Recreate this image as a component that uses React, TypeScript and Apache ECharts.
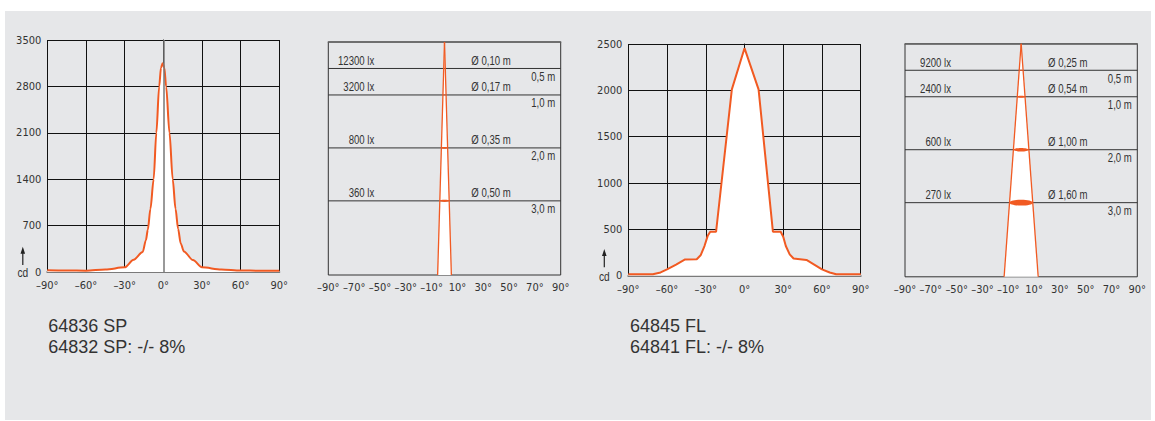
import React, { useEffect, useRef } from "react";
import * as echarts from "echarts";

// ---- Data ----
const spAngles = [-90, -75, -60, -45, -30, -23, -16, -13.5, -12, -10, -7.5, -5.4, -3.2, -1.8, -0.5, 0.8, 2.2, 4.8, 7.3, 9.5, 11.5, 13.5, 16, 23, 30, 45, 60, 75, 90];
const spCandela = [25, 22, 20, 38, 70, 185, 300, 480, 640, 950, 1400, 2100, 2800, 3080, 3150, 3080, 2800, 2100, 1400, 950, 650, 430, 310, 180, 70, 38, 22, 20, 20];

const flAngles = [-90, -71, -65, -60, -53, -46, -37, -34, -31, -28.5, -26.5, -22, -9.8, 0, 10.9, 22, 28, 30, 32, 35, 38, 48, 54, 60, 66, 71, 90];
const flCandela = [15, 15, 35, 68, 120, 175, 178, 220, 320, 430, 475, 475, 2010, 2455, 2010, 475, 475, 420, 320, 230, 185, 170, 120, 68, 35, 15, 15];

const spCdMax = 3500;
const spCdStep = 700;
const flCdMax = 2500;
const flCdStep = 500;

const distances = [0.5, 1.0, 2.0, 3.0];
const spLux = [12300, 3200, 800, 360];
const spDiameters = [0.1, 0.17, 0.35, 0.5];
const flLux = [9200, 2400, 600, 270];
const flDiameters = [0.25, 0.54, 1.0, 1.6];
const depthMax = 4.4;

const spCaption = ["64836 SP", "64832 SP: -/- 8%"];
const flCaption = ["64845 FL", "64841 FL: -/- 8%"];

// ---- Styles ----
const ORANGE = "#f15a22";
const FONT_N = "'DejaVu Sans Condensed','Liberation Sans Narrow',sans-serif";
const FONT_S = "'Liberation Sans',Arial,Helvetica,sans-serif";
const FONT = "'Liberation Sans',Arial,Helvetica,sans-serif";
const TXT = "#333";

const angleFmt = (v: number) => (v < 0 ? "\u2013" + -v : String(v)) + "\u00b0";
const comma = (v: number, d: number) => v.toFixed(d).replace(".", ",");

function curveAxes(gridIndex: number, max: number, step: number) {
  const x = {
    type: "value",
    gridIndex,
    min: -90,
    max: 90,
    interval: 30,
    axisLine: { show: true, onZero: false, lineStyle: { color: "#7a7a7a", width: 2 } },
    axisTick: { show: false },
    splitLine: { show: true, lineStyle: { color: "#111", width: 1 } },
    axisLabel: { formatter: angleFmt, color: TXT, fontSize: 11, fontFamily: FONT_N, margin: 8 },
  };
  const y = {
    type: "value",
    gridIndex,
    min: 0,
    max,
    interval: step,
    axisLine: { show: true, lineStyle: { color: "#111", width: 1 } },
    axisTick: { show: false },
    splitLine: { show: true, lineStyle: { color: "#111", width: 1 } },
    axisLabel: { formatter: (v: number) => String(v), color: TXT, fontSize: 11, fontFamily: FONT_N, margin: 6 },
  };
  return { x, y };
}

function curveSeries(xAxisIndex: number, yAxisIndex: number, angles: number[], vals: number[], smooth: number | boolean, centreLine: boolean) {
  const s: any = {
    type: "line",
    xAxisIndex,
    yAxisIndex,
    silent: true,
    data: angles.map((a, i) => [a, vals[i]]),
    showSymbol: false,
    smooth,
    smoothMonotone: "x",
    lineStyle: { color: ORANGE, width: 2 },
    areaStyle: { color: "#ffffff", opacity: 1 },
    z: 2,
  };
  if (centreLine) {
    s.markLine = {
      silent: true,
      symbol: ["none", "none"],
      label: { show: false },
      lineStyle: { color: "#777", width: 1.5, type: "solid" },
      data: [{ xAxis: 0 }],
    };
  }
  return s;
}

function illumAxes(gridIndex: number, halfRange: number) {
  const xLabels = {
    type: "value",
    gridIndex,
    min: 0,
    max: 180,
    interval: 20,
    position: "bottom",
    axisLine: { show: true, lineStyle: { color: "#666", width: 1.5 } },
    axisTick: { show: false },
    splitLine: { show: false },
    axisLabel: { formatter: (v: number) => angleFmt(v - 90), color: TXT, fontSize: 11, fontFamily: FONT_N, margin: 7 },
  };
  const xMetres = { type: "value", gridIndex, min: -halfRange, max: halfRange, show: false };
  const y = { type: "value", gridIndex, min: 0, max: depthMax, inverse: true, show: false };
  return { xLabels, xMetres, y };
}

function label(x: number, y: number, text: string, align: string) {
  return {
    type: "text",
    x,
    y,
    scaleX: 0.8,
    style: { text, x: 0, y: 0, fontSize: 12, fontFamily: FONT_S, fill: TXT, align, verticalAlign: "middle" },
  };
}

function illumSeries(xAxisIndex: number, yAxisIndex: number, lux: number[], diam: number[]) {
  const lastI = distances.length - 1;
  const bottomR = (diam[lastI] / 2) * (depthMax / distances[lastI]);
  const cone = {
    type: "custom",
    xAxisIndex,
    yAxisIndex,
    silent: true,
    clip: false,
    data: [[bottomR, depthMax]],
    renderItem: (_p: any, api: any) => {
      const apex = api.coord([0, 0]);
      const bl = api.coord([-api.value(0), api.value(1)]);
      const br = api.coord([api.value(0), api.value(1)]);
      return { type: "polygon", shape: { points: [apex, bl, br] }, style: { fill: "#ffffff" } };
    },
    z: 2,
  };
  const lines = {
    type: "custom",
    xAxisIndex,
    yAxisIndex,
    silent: true,
    clip: false,
    data: distances.map((d, i) => [0, d, lux[i], diam[i]]),
    renderItem: (params: any, api: any) => {
      const cs = params.coordSys;
      const d = api.value(1);
      const y = api.coord([0, d])[1];
      return {
        type: "group",
        children: [
          { type: "line", shape: { x1: cs.x, y1: y, x2: cs.x + cs.width, y2: y }, style: { stroke: "#333", lineWidth: 1 } },
          label(cs.x + 46, y - 8, api.value(2) + " lx", "right"),
          label(cs.x + 143, y - 8, "\u00d8 " + comma(api.value(3), 2) + " m", "left"),
          label(cs.x + cs.width - 5.5, y + 8, comma(d, 1) + " m", "right"),
        ],
      };
    },
    z: 3,
  };
  const edges = {
    type: "custom",
    xAxisIndex,
    yAxisIndex,
    silent: true,
    clip: false,
    data: [[bottomR, depthMax]],
    renderItem: (_p: any, api: any) => {
      const apex = api.coord([0, 0]);
      const bl = api.coord([-api.value(0), api.value(1)]);
      const br = api.coord([api.value(0), api.value(1)]);
      const st = { stroke: ORANGE, lineWidth: 1.3 };
      return {
        type: "group",
        children: [
          { type: "line", shape: { x1: apex[0], y1: apex[1], x2: bl[0], y2: bl[1] }, style: st },
          { type: "line", shape: { x1: apex[0], y1: apex[1], x2: br[0], y2: br[1] }, style: st },
        ],
      };
    },
    z: 4,
  };
  const ellipses = {
    type: "custom",
    xAxisIndex,
    yAxisIndex,
    silent: true,
    clip: false,
    data: distances.map((d, i) => [diam[i] / 2, d]),
    renderItem: (_p: any, api: any) => {
      const c = api.coord([0, api.value(1)]);
      const e = api.coord([api.value(0), api.value(1)]);
      const rx = Math.abs(e[0] - c[0]);
      return {
        type: "ellipse",
        shape: { cx: c[0], cy: c[1], rx, ry: rx * 0.25 },
        style: { fill: ORANGE },
      };
    },
    z: 5,
  };
  return [cone, lines, edges, ellipses];
}

function cdMarker(x: number, textY: number, headTop: number, shaftBottom: number) {
  return [
    { type: "text", x, y: textY, scaleX: 0.85, style: { text: "cd", x: 0, y: 0, fontSize: 12, fontFamily: FONT_S, fill: TXT, align: "center", verticalAlign: "middle" } },
    { type: "line", shape: { x1: x, y1: headTop + 5, x2: x, y2: shaftBottom }, style: { stroke: "#222", lineWidth: 1.2 } },
    { type: "polygon", shape: { points: [[x, headTop], [x - 2.3, headTop + 7], [x + 2.3, headTop + 7]] }, style: { fill: "#222" } },
  ];
}

function caption(x: number, lines: string[]) {
  return lines.map((t, i) => ({
    type: "text",
    x,
    y: 325.5 + i * 21,
    style: { text: t, fontSize: 18, fontFamily: FONT, fill: TXT, align: "left", verticalAlign: "middle" },
  }));
}

const g0 = curveAxes(0, spCdMax, spCdStep);
const g1 = illumAxes(1, 6.2);
const g2 = curveAxes(2, flCdMax, flCdStep);
const g3 = illumAxes(3, 8.0);

const option = {
  animation: false,
  backgroundColor: "transparent",
  grid: [
    { left: 47.3, top: 40, width: 232, height: 232 },
    { left: 328.3, top: 42, width: 232.4, height: 233, show: true, borderColor: "#333", borderWidth: 1, backgroundColor: "transparent" },
    { left: 628.3, top: 44, width: 232.4, height: 231.7 },
    { left: 905, top: 43.8, width: 232.3, height: 233, show: true, borderColor: "#333", borderWidth: 1, backgroundColor: "transparent" },
  ],
  xAxis: [g0.x, g1.xLabels, g1.xMetres, g2.x, g3.xLabels, g3.xMetres],
  yAxis: [g0.y, g1.y, g2.y, g3.y],
  series: [
    curveSeries(0, 0, spAngles, spCandela, 0.3, true),
    ...illumSeries(2, 1, spLux, spDiameters),
    curveSeries(3, 2, flAngles, flCandela, false, false),
    ...illumSeries(5, 3, flLux, flDiameters),
  ],
  graphic: [
    ...cdMarker(22.8, 273, 246.7, 265),
    ...cdMarker(604.3, 276.3, 249, 267.3),
    ...caption(48.3, spCaption),
    ...caption(630, flCaption),
  ],
};

export default function App() {
  const ref = useRef<HTMLDivElement>(null);
  useEffect(() => {
    if (!ref.current) return;
    const chart = echarts.init(ref.current, null, { renderer: "svg" });
    chart.setOption(option as any);
    return () => chart.dispose();
  }, []);
  return (
    <div style={{ position: "fixed", left: 0, top: 0, width: 1155, height: 421, background: "#ffffff" }}>
      <div style={{ position: "absolute", left: 5, top: 11, width: 1146, height: 409, background: "#e6e7e9" }} />
      <div ref={ref} style={{ position: "absolute", left: 0, top: 0, width: 1155, height: 421 }} />
    </div>
  );
}
